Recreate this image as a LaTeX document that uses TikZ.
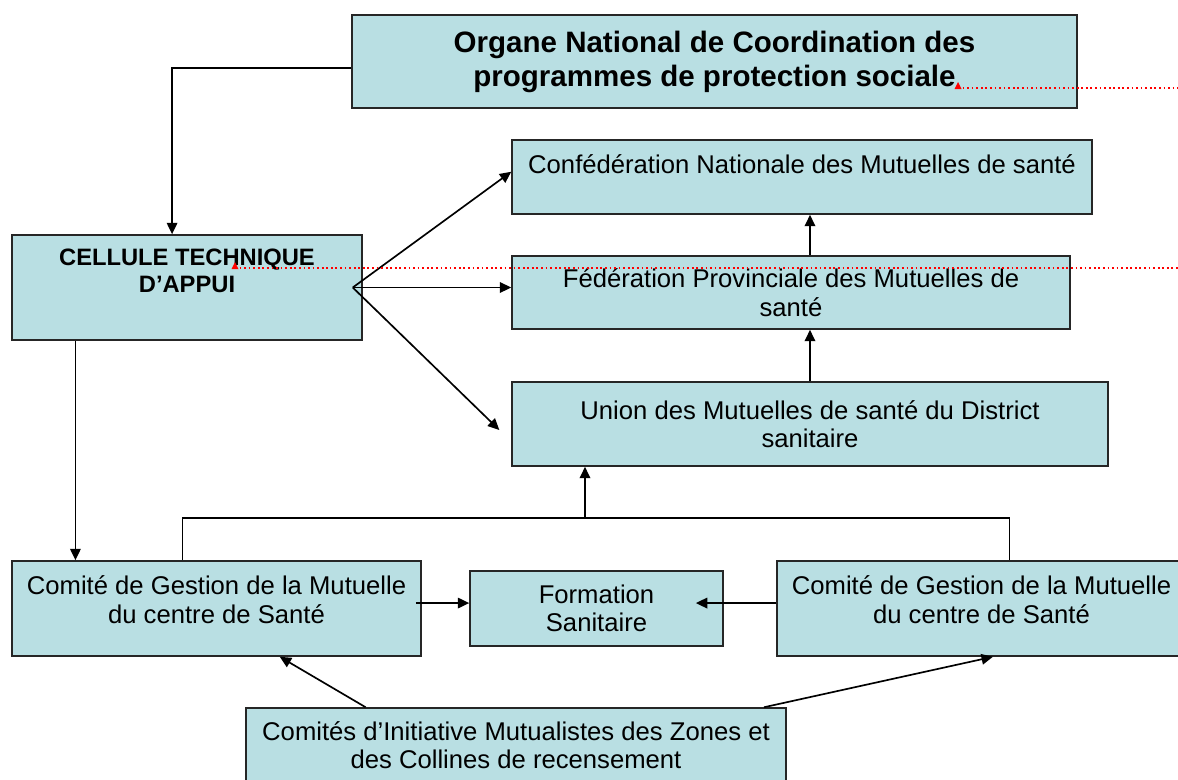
\documentclass[tikz,border=0pt]{standalone}
\usepackage{fontspec}
\setmainfont{Liberation Sans}
\usetikzlibrary{arrows.meta}
\definecolor{boxblue}{RGB}{185,223,227}

\begin{document}
\begin{tikzpicture}[x=0.02cm,y=-0.02cm,>={Triangle[length=6.5pt,width=6pt]},line width=0.95pt]
            \useasboundingbox (0,0) rectangle (1178,779);
            \begin{scope}[every node/.style={rectangle,draw=black!85,line width=0.9pt,fill=boxblue,align=center,inner sep=0pt,font=\fontsize{14.6}{16.2}\selectfont}]
                \node[minimum width=14.5cm,minimum height=1.86cm,font=\bfseries\fontsize{16.8}{19.3}\selectfont] (onc) at (714.5,61.5) {Organe National de Coordination des\\programmes de protection sociale};
                \node[minimum width=11.6cm,minimum height=1.48cm] (cnm) at (802,177) {Confédération Nationale des Mutuelles de santé\\[-1.5pt]\mbox{}};
                \node[minimum width=7cm,minimum height=2.1cm,font=\bfseries\fontsize{13.5}{15.3}\selectfont] (cta) at (187,287.5) {CELLULE TECHNIQUE\\D’APPUI\\[4pt]\mbox{}};
                \node[minimum width=11.16cm,minimum height=1.46cm] (fpm) at (791,292.5) {Fédération Provinciale des Mutuelles de\\santé};
                \node[minimum width=11.92cm,minimum height=1.68cm] (ums) at (810,424) {Union des Mutuelles de santé du District\\sanitaire};
                \node[minimum width=8.18cm,minimum height=1.9cm] (cgl) at (216.5,608.5) {Comité de Gestion de la Mutuelle\\du centre de Santé\\[-6pt]\mbox{}};
                \node[minimum width=5.06cm,minimum height=1.5cm] (fs) at (596.5,608.5) {Formation\\Sanitaire};
                \node[minimum width=8.18cm,minimum height=1.9cm] (cgr) at (981.5,608.5) {Comité de Gestion de la Mutuelle\\du centre de Santé\\[-6pt]\mbox{}};
                \node[minimum width=10.8cm,minimum height=1.48cm] (cim) at (516,745) {Comités d’Initiative Mutualistes des Zones et\\des Collines de recensement};
            \end{scope}
            % top of the tree
            \draw[->] ([yshift=-3.7pt]onc.west) -| ([xshift=-8.5pt]cta.north);
            \coordinate (ctaout) at ([xshift=-5.7pt]cta.east);
            \draw[->] (ctaout) -- ([yshift=3pt]cnm.west);
            \draw[->] (ctaout) -- (ctaout -| fpm.west);
            \draw[->] (ctaout) -- ([shift={(-6.8pt,-3.4pt)}]ums.west);
            \draw[->] (ums.north) -- (ums.north |- fpm.south);
            \draw[->] (ums.north |- fpm.north) -- (ums.north |- cnm.south);
            % down to the health centres
            \coordinate (ctadown) at ([xshift=-63.5pt]cta.south);
            \draw[->] (ctadown) -- (ctadown |- cgl.north);
            \coordinate (join) at (585,518);
            \draw[line width=0.6pt] ([xshift=-19.6pt]cgl.north) |- (join) -| ([xshift=16.2pt]cgr.north);
            \draw[->] (join) -- (join |- ums.south);
            \coordinate (cglout) at ([shift={(-3.4pt,3.1pt)}]cgl.east);
            \draw[->] (cglout) -- (cglout -| fs.west);
            \coordinate (cgrout) at ([yshift=3.1pt]cgr.west);
            \draw[->] (cgrout) -- ([xshift=-15.9pt]cgrout -| fs.east);
            \draw[->] ([xshift=-85.6pt]cim.north) -- ([xshift=36pt]cgl.south);
            \draw[->] ([xshift=141.2pt]cim.north) -- ([xshift=6.5pt]cgr.south);
            % comment marks
            \coordinate (mark1) at (958,88);
            \coordinate (mark2) at (235,268);
            \fill[red] (mark1) ++(-3.5,1) -- ++(7,0) -- ++(-3.5,-7) -- cycle;
            \fill[red] (mark2) ++(-3.5,1) -- ++(7,0) -- ++(-3.5,-7) -- cycle;
            \draw[red,line width=0.6pt,dash pattern=on 1pt off 1.6pt] (mark1) -- (mark1 -| 1178,0);
            \draw[red,line width=0.6pt,dash pattern=on 1pt off 1.6pt] (mark2) -- (mark2 -| 1178,0);
        \end{tikzpicture}
\end{document}
